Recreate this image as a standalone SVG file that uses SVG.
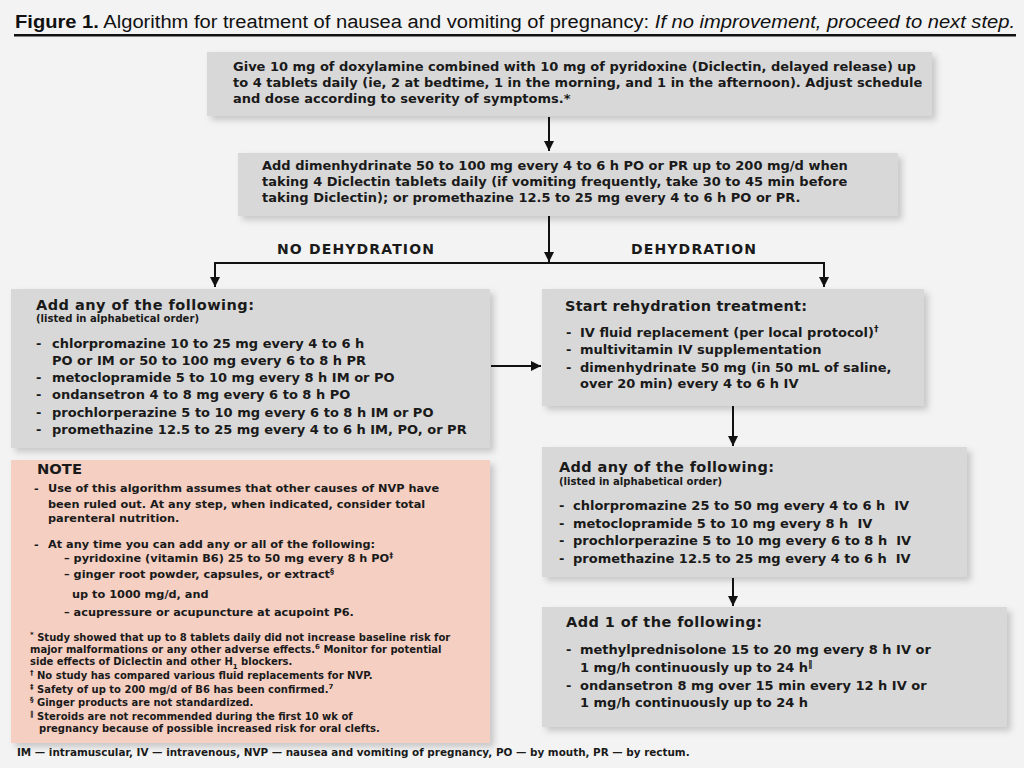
<svg xmlns="http://www.w3.org/2000/svg" width="1024" height="768" viewBox="0 0 1024 768">
<style>
.t{font-family:"DejaVu Sans",sans-serif;font-weight:bold;fill:#1a1a1a}
.main{font-size:13px}
.hd{font-size:14.5px}
.sub{font-size:9.9px}
.note{font-size:11.3px}
.fn{font-size:10px}
.foot{font-size:10.4px}
.lbl{font-size:14px}
.sup{font-size:70%;baseline-shift:super}
.box{fill:#d8d8d8;filter:url(#sh)}
.pink{fill:#f4cfc2;filter:url(#sh)}
.ln{stroke:#111;stroke-width:2;fill:none}
</style>
<defs>
<filter id="sh" x="-5%" y="-10%" width="115%" height="130%">
<feDropShadow dx="4" dy="4" stdDeviation="3" flood-color="#000" flood-opacity="0.18"/>
</filter>
<marker id="ah" viewBox="0 0 10 12" refX="10" refY="6" markerWidth="10" markerHeight="12" markerUnits="userSpaceOnUse" orient="auto">
<path d="M0,1 L10,6 L0,11 z" fill="#111"/>
</marker>
</defs>
<rect width="1024" height="768" fill="#f3f3f3"/>

<g id="title">
<text x="15" y="28" textLength="1000" lengthAdjust="spacingAndGlyphs" font-family="Liberation Sans, sans-serif" font-size="18" fill="#111"><tspan font-weight="bold">Figure 1.</tspan> Algorithm for treatment of nausea and vomiting of pregnancy: <tspan font-style="italic">If no improvement, proceed to next step.</tspan></text>
<rect x="14" y="34" width="1002" height="2.5" fill="#111"/>
</g>

<g id="step1">
<rect class="box" x="207" y="52" width="725" height="64"/>
<text class="t main" x="233" y="71">Give 10 mg of doxylamine combined with 10 mg of pyridoxine (Diclectin, delayed release) up</text>
<text class="t main" x="233" y="87">to 4 tablets daily (ie, 2 at bedtime, 1 in the morning, and 1 in the afternoon). Adjust schedule</text>
<text class="t main" x="233" y="103">and dose according to severity of symptoms.*</text>
</g>

<g id="step2">
<rect class="box" x="238" y="153" width="660" height="63"/>
<text class="t main" x="262" y="170">Add dimenhydrinate 50 to 100 mg every 4 to 6 h PO or PR up to 200 mg/d when</text>
<text class="t main" x="262" y="186">taking 4 Diclectin tablets daily (if vomiting frequently, take 30 to 45 min before</text>
<text class="t main" x="262" y="202">taking Diclectin); or promethazine 12.5 to 25 mg every 4 to 6 h PO or PR.</text>
</g>

<g id="labels">
<text class="t lbl" x="277" y="254" textLength="157" lengthAdjust="spacing">NO DEHYDRATION</text>
<text class="t lbl" x="631" y="254" textLength="125" lengthAdjust="spacing">DEHYDRATION</text>
</g>

<g id="noDehydration">
<rect class="box" x="11" y="289" width="479" height="159"/>
<text class="t hd" x="36" y="310" textLength="218" lengthAdjust="spacing">Add any of the following:</text>
<text class="t sub" x="36" y="322" textLength="163" lengthAdjust="spacingAndGlyphs">(listed in alphabetical order)</text>
<text class="t main" x="36" y="348">-</text><text class="t main" x="52" y="348">chlorpromazine 10 to 25 mg every 4 to 6 h</text>
<text class="t main" x="52" y="365">PO or IM or 50 to 100 mg every 6 to 8 h PR</text>
<text class="t main" x="36" y="382">-</text><text class="t main" x="52" y="382">metoclopramide 5 to 10 mg every 8 h IM or PO</text>
<text class="t main" x="36" y="399">-</text><text class="t main" x="52" y="399">ondansetron 4 to 8 mg every 6 to 8 h PO</text>
<text class="t main" x="36" y="417">-</text><text class="t main" x="52" y="417">prochlorperazine 5 to 10 mg every 6 to 8 h IM or PO</text>
<text class="t main" x="36" y="434">-</text><text class="t main" x="52" y="434">promethazine 12.5 to 25 mg every 4 to 6 h IM, PO, or PR</text>
</g>

<g id="rehydration">
<rect class="box" x="542" y="289" width="382" height="117"/>
<text class="t hd" x="565" y="311" textLength="242" lengthAdjust="spacing">Start rehydration treatment:</text>
<text class="t main" x="566" y="337">-</text><text class="t main" x="580" y="337">IV fluid replacement (per local protocol)<tspan class="sup">†</tspan></text>
<text class="t main" x="566" y="354">-</text><text class="t main" x="580" y="354">multivitamin IV supplementation</text>
<text class="t main" x="566" y="372">-</text><text class="t main" x="580" y="372">dimenhydrinate 50 mg (in 50 mL of saline,</text>
<text class="t main" x="580" y="388">over 20 min) every 4 to 6 h IV</text>
</g>

<g id="ivOptions">
<rect class="box" x="542" y="447" width="425" height="130"/>
<text class="t hd" x="559" y="472" textLength="215" lengthAdjust="spacing">Add any of the following:</text>
<text class="t sub" x="559" y="485" textLength="163" lengthAdjust="spacingAndGlyphs">(listed in alphabetical order)</text>
<text class="t main" x="559" y="510">-</text><text class="t main" x="573" y="510" xml:space="preserve">chlorpromazine 25 to 50 mg every 4 to 6 h  IV</text>
<text class="t main" x="559" y="528">-</text><text class="t main" x="573" y="528" xml:space="preserve">metoclopramide 5 to 10 mg every 8 h  IV</text>
<text class="t main" x="559" y="545">-</text><text class="t main" x="573" y="545" xml:space="preserve">prochlorperazine 5 to 10 mg every 6 to 8 h  IV</text>
<text class="t main" x="559" y="563">-</text><text class="t main" x="573" y="563" xml:space="preserve">promethazine 12.5 to 25 mg every 4 to 6 h  IV</text>
</g>

<g id="addOne">
<rect class="box" x="542" y="607" width="465" height="120"/>
<text class="t hd" x="566" y="627" textLength="196" lengthAdjust="spacing">Add 1 of the following:</text>
<text class="t main" x="566" y="654">-</text><text class="t main" x="580" y="654">methylprednisolone 15 to 20 mg every 8 h IV or</text>
<text class="t main" x="580" y="672">1 mg/h continuously up to 24 h<tspan class="sup">‖</tspan></text>
<text class="t main" x="566" y="690">-</text><text class="t main" x="580" y="690">ondansetron 8 mg over 15 min every 12 h IV or</text>
<text class="t main" x="580" y="707">1 mg/h continuously up to 24 h</text>
</g>

<g id="note">
<rect class="pink" x="11" y="460" width="479" height="283"/>
<text class="t hd" x="37" y="474" textLength="45" lengthAdjust="spacingAndGlyphs">NOTE</text>
<text class="t note" x="34" y="492">-</text><text class="t note" x="48" y="492">Use of this algorithm assumes that other causes of NVP have</text>
<text class="t note" x="48" y="508">been ruled out. At any step, when indicated, consider total</text>
<text class="t note" x="48" y="522">parenteral nutrition.</text>
<text class="t note" x="34" y="548">-</text><text class="t note" x="48" y="548">At any time you can add any or all of the following:</text>
<text class="t note" x="64" y="562">– pyridoxine (vitamin B6) 25 to 50 mg every 8 h PO<tspan class="sup">‡</tspan></text>
<text class="t note" x="64" y="578">– ginger root powder, capsules, or extract<tspan class="sup">§</tspan></text>
<text class="t note" x="72" y="598">up to 1000 mg/d, and</text>
<text class="t note" x="64" y="616">– acupressure or acupuncture at acupoint P6.</text>
<text class="t fn" x="30" y="641"><tspan class="sup">*</tspan> Study showed that up to 8 tablets daily did not increase baseline risk for</text>
<text class="t fn" x="30" y="653">major malformations or any other adverse effects.<tspan class="sup">6</tspan> Monitor for potential</text>
<text class="t fn" x="30" y="665">side effects of Diclectin and other H<tspan font-size="70%" baseline-shift="sub">1</tspan> blockers.</text>
<text class="t fn" x="30" y="679"><tspan class="sup">†</tspan> No study has compared various fluid replacements for NVP.</text>
<text class="t fn" x="30" y="693"><tspan class="sup">‡</tspan> Safety of up to 200 mg/d of B6 has been confirmed.<tspan class="sup">7</tspan></text>
<text class="t fn" x="30" y="706"><tspan class="sup">§</tspan> Ginger products are not standardized.</text>
<text class="t fn" x="30" y="720"><tspan class="sup">‖</tspan> Steroids are not recommended during the first 10 wk of</text>
<text class="t fn" x="39" y="732">pregnancy because of possible increased risk for oral clefts.</text>
</g>

<g id="footer">
<text class="t foot" x="17" y="756">IM — intramuscular, IV — intravenous, NVP — nausea and vomiting of pregnancy, PO — by mouth, PR — by rectum.</text>
</g>

<g id="connectors">
<path class="ln" d="M549,117 V151" marker-end="url(#ah)"/>
<path class="ln" d="M549,216 V262" marker-end="url(#ah)"/>
<path class="ln" d="M215,263 H824"/>
<path class="ln" d="M215,262 V287" marker-end="url(#ah)"/>
<path class="ln" d="M824,262 V287" marker-end="url(#ah)"/>
<path class="ln" d="M491,366 H541" marker-end="url(#ah)"/>
<path class="ln" d="M733,406 V446" marker-end="url(#ah)"/>
<path class="ln" d="M733,578 V606" marker-end="url(#ah)"/>
</g>
</svg>
